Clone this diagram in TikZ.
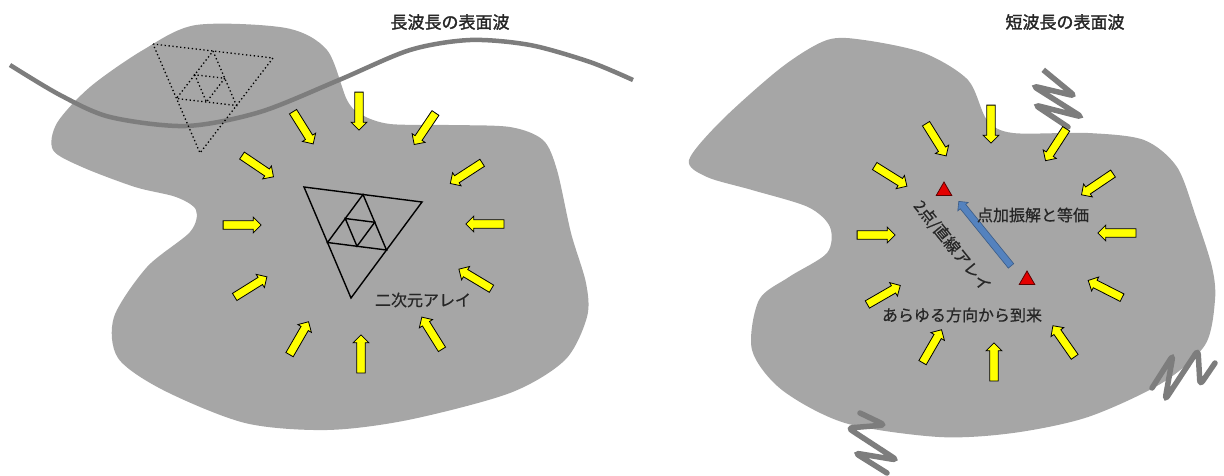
\documentclass[tikz,border=0pt]{standalone}
\usepackage{fontspec}
\newfontfamily\jp[FakeBold=0.6]{Noto Sans CJK JP}
\newfontfamily\jphead[FakeBold=1.6]{Noto Sans CJK JP}
\usetikzlibrary{shapes.arrows, shapes.geometric, calc}
\definecolor{Ground}{RGB}{166,166,166}
\definecolor{Wave}{RGB}{125,125,125}
\definecolor{Arrow}{RGB}{255,255,0}
\definecolor{Steel}{RGB}{84,130,190}
\definecolor{Station}{RGB}{228,0,0}

\tikzset{
    inarrow/.style={single arrow, draw=black, fill=Arrow, line width=0.8pt,
        minimum height=38pt, inner xsep=0pt, inner ysep=3.8pt,
        single arrow head extend=3.6pt},
    jptext/.style={font=\jp\fontsize{16pt}{18pt}\selectfont, text=black!85},
    jphead/.style={font=\jphead\fontsize{17pt}{19pt}\selectfont, text=black!85},
    dotarray/.style={black, line width=1.3pt, dash pattern=on 1.3pt off 2.6pt},
    spring/.style={Wave, line width=5.5pt, line cap=round, rounded corners=5pt}
}

\begin{document}
\begin{tikzpicture}[x=1pt, y=-1pt]

    \useasboundingbox (0,0) rectangle (1224,475);

    % ground, long wavelength side
    \fill[Ground] plot[smooth cycle] coordinates {
        (196,25) (286,28) (327,50) (347,100) (362,115) (390,124) (449,125)
        (510,127) (543,140) (557,170) (571,233) (586,283) (587,317)
        (565,360) (510,393) (408,420) (327,430) (245,423) (163,390)
        (118,358) (114,317) (147,267) (190,232) (196,210) (176,197)
        (135,187) (82,167) (53,150) (57,123) (90,87) (143,50)};

    % ground, short wavelength side
    \fill[Ground] plot[smooth cycle] coordinates {
        (689,160) (722,120) (782,67) (827,40) (864,40) (924,53) (968,80)
        (987,120) (1013,133) (1088,133) (1144,140) (1177,167) (1196,217)
        (1212,267) (1215,300) (1205,345) (1162,383) (1088,417) (1013,433)
        (939,437) (845,423) (782,390) (752,350) (759,300) (789,277)
        (827,253) (830,227) (808,207) (752,190) (707,177)};

    % long wave
    \draw[Wave, line width=4.5pt] plot[smooth] coordinates {
        (10,65) (60,95) (110,117) (186,126) (260,112) (339,80) (410,50)
        (470,40) (530,45) (590,62) (633,80)};

    % dotted array on the wave
    \coordinate (dA) at (153,44);
    \coordinate (dB) at (273,58);
    \coordinate (dC) at (200,153);
    \coordinate (dAB) at ($(dA)!0.5!(dB)$);
    \coordinate (dBC) at ($(dB)!0.5!(dC)$);
    \coordinate (dCA) at ($(dC)!0.5!(dA)$);
    \draw[dotarray] (dA) -- (dB) -- (dC) -- cycle;
    \draw[dotarray] (dAB) -- (dBC) -- (dCA) -- cycle;
    \draw[dotarray] ($(dAB)!0.5!(dBC)$) -- ($(dBC)!0.5!(dCA)$) -- ($(dCA)!0.5!(dAB)$) -- cycle;

    % two dimensional array
    \coordinate (tA) at (304,187);
    \coordinate (tB) at (422,202);
    \coordinate (tC) at (351,298);
    \coordinate (tAB) at ($(tA)!0.5!(tB)$);
    \coordinate (tBC) at ($(tB)!0.5!(tC)$);
    \coordinate (tCA) at ($(tC)!0.5!(tA)$);
    \draw[black, line width=1.4pt] (tA) -- (tB) -- (tC) -- cycle;
    \draw[black, line width=1.4pt] (tAB) -- (tBC) -- (tCA) -- cycle;
    \draw[black, line width=1.4pt] ($(tAB)!0.5!(tBC)$) -- ($(tBC)!0.5!(tCA)$) -- ($(tCA)!0.5!(tAB)$) -- cycle;

    % short waves
    \draw[spring] (1053,78) -- (1041,68) -- (1075,96) -- (1033,86) -- (1082,117) -- (1035,105) -- (1068,127);
    \draw[spring] (1152,388) -- (1173,355) -- (1165,400) -- (1198,350) -- (1200,385) -- (1215,363);
    \draw[spring] (860,413) -- (885,425) -- (848,428) -- (897,460) -- (855,453) -- (887,473);

    % incoming waves, left
    \foreach \n/\x/\y/\a in {1/302/126/-58, 2/359/109/-90, 3/426/127/-124,
            4/468/172/-147, 5/487/224/180, 6/477/280/149, 7/433/335/122,
            8/361/356/90, 9/298/340/60, 10/249/288/32, 11/240/225/0,
            12/256/165/-34}
        \node[inarrow, rotate=\a] (la\n) at (\x,\y) {};

    % incoming waves, right
    \foreach \n/\x/\y/\a in {1/935/138/-58, 2/991/122/-90, 3/1057/143/-123,
            4/1099/183/-146, 5/1119/233/180, 6/1107/290/153, 7/1065/343/125,
            8/994/364/90, 9/931/348/60, 10/882/296/30, 11/874/235/0,
            12/889/175/-32}
        \node[inarrow, rotate=\a] (ra\n) at (\x,\y) {};

    % two stations
    \node[regular polygon, regular polygon sides=3, draw=black!60!Station,
        fill=Station, line width=0.8pt, minimum size=18pt, inner sep=0pt]
        (st1) at (944,191) {};
    \node[regular polygon, regular polygon sides=3, draw=black!60!Station,
        fill=Station, line width=0.8pt, minimum size=18pt, inner sep=0pt]
        (st2) at (1027,280) {};
    \node[single arrow, draw=Steel!70!black, fill=Steel, line width=0.6pt,
        minimum height=83pt, inner xsep=0pt, inner ysep=3.2pt,
        single arrow head extend=3.2pt, rotate=129] (pull) at (986,235) {};

    % texts
    \node[jphead] (tl) at (450,22) {長波長の表面波};
    \node[jphead] (tr) at (1065,22) {短波長の表面波};
    \node[jptext] (arr2d) at (423,300) {二次元アレイ};
    \node[jptext] (equiv) at (1033,215) {点加振解と等価};
    \node[jptext] (every) at (962,315) {あらゆる方向から到来};
    \node[jptext, rotate=-51] (line) at (952,246) {2点/直線アレイ};

\end{tikzpicture}
\end{document}
